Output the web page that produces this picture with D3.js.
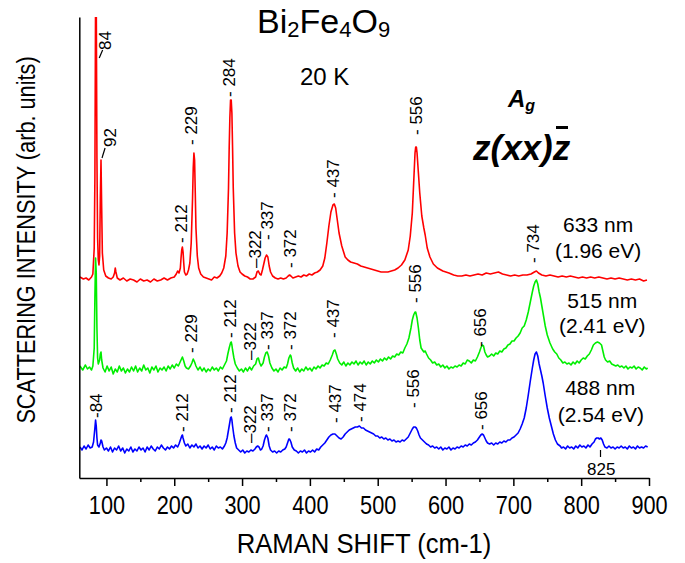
<!DOCTYPE html>
<meta charset="utf-8">
<style>
body { margin: 0; background: #fff; }
svg { display: block; }
.axis path, .axis line { stroke: #000; stroke-width: 1.5; }
.axis text { font-family: "Liberation Sans", Arial, sans-serif; font-size: 26.5px; fill: #000; }
.spec { fill: none; stroke-width: 1.6; stroke-linejoin: round; }
.peak { font-family: "Liberation Sans", Arial, sans-serif; font-size: 17px; fill: #000; }
.lab { font-family: "Liberation Sans", Arial, sans-serif; font-size: 21px; fill: #000; text-anchor: middle; }
.title { font-family: "Liberation Sans", Arial, sans-serif; fill: #000; }
</style>
<svg width="685" height="563"></svg>
<script src="https://d3js.org/d3.v7.min.js"></script>
<script>
// Raman spectra, three laser lines, offset vertically (arb. units)
var majorTicks = [100, 200, 300, 400, 500, 600, 700, 800, 900];
var minorTicks = [150, 250, 350, 450, 550, 650, 750, 850];

var red633 = [[61,201],[66,199],[70,200],[74,198],[78,201],[80,204],[82,230],[83,300],[84,480],[85,480],[86,320],[87,240],[88,218],[89,213],[90,222],[91,280],[92,318],[93,270],[94,225],[96,208],[99,202],[103,200],[107,199],[110,201],[112,205],[113,210],[114,206],[116,200],[120,198],[125,200],[130,197],[135,199],[140,198],[145,196],[150,199],[155,197],[160,198],[165,196],[170,199],[175,197],[180,198],[185,200],[190,198],[195,200],[200,201],[203,204],[205,207],[207,205],[209,210],[210,220],[211,228],[212,231],[213,226],[214,215],[215,206],[217,203],[219,204],[221,208],[223,215],[225,235],[227,280],[228,310],[229,325],[230,318],[231,285],[232,250],[234,222],[236,210],[239,204],[243,201],[247,200],[251,199],[255,198],[259,201],[263,200],[267,202],[270,205],[273,210],[276,222],[278,245],[280,290],[281,330],[282,360],[283,378],[284,378],[285,365],[286,330],[287,290],[289,245],[291,225],[294,212],[297,206],[300,204],[304,202],[308,201],[312,199],[316,199],[320,201],[322,206],[324,207],[326,204],[328,203],[330,208],[332,214],[334,220],[336,223],[338,221],[340,212],[342,206],[345,202],[349,200],[353,199],[357,200],[361,199],[365,200],[368,202],[370,203],[372,202],[375,200],[379,201],[383,202],[387,201],[391,203],[395,202],[399,204],[403,203],[407,205],[411,206],[415,208],[419,212],[422,220],[425,235],[428,252],[431,266],[434,273],[436,274],[438,270],[440,260],[443,245],[447,232],[452,221],[456,218],[460,216],[465,215],[470,214],[475,212],[480,211],[485,210],[490,209],[495,208],[500,207],[505,206],[510,206],[515,206],[520,207],[525,208],[530,210],[535,213],[540,218],[545,228],[548,242],[551,265],[553,295],[555,325],[556,331],[557,331],[558,325],[560,305],[562,285],[565,262],[568,250],[570,243],[573,230],[577,221],[582,214],[588,210],[596,207],[605,205],[612,203],[618,202],[624,202],[630,203],[636,202],[642,203],[648,204],[654,203],[660,205],[666,204],[672,205],[678,206],[684,204],[690,203],[696,202],[702,203],[708,202],[714,203],[720,203],[726,204],[731,206],[734,207],[737,205],[742,203],[748,202],[754,203],[760,202],[766,201],[772,202],[778,201],[784,202],[790,201],[796,200],[802,201],[808,200],[814,201],[820,200],[826,201],[832,200],[838,199],[844,200],[850,199],[856,200],[862,199],[868,198],[874,199],[880,198],[886,199],[892,197],[897,198]];

var green515 = [[61,112],[65,108],[69,113],[72,109],[75,111],[78,108],[80,112],[82,130],[83,180],[84,220],[85,205],[86,150],[87,120],[88,114],[90,118],[91,124],[92,126],[93,118],[95,110],[98,106],[101,112],[104,107],[107,111],[110,104],[113,109],[116,106],[119,112],[122,107],[125,110],[128,105],[131,109],[134,106],[137,111],[140,107],[143,112],[146,106],[149,110],[152,107],[155,113],[158,108],[161,110],[164,105],[167,111],[170,108],[173,112],[176,106],[179,110],[182,108],[185,111],[188,107],[191,112],[194,109],[197,113],[200,110],[203,114],[206,112],[208,115],[210,118],[212,121],[214,117],[216,112],[218,110],[221,109],[224,112],[226,115],[228,119],[230,116],[232,112],[235,108],[238,111],[241,107],[244,110],[247,106],[250,109],[253,107],[256,111],[259,108],[262,110],[265,107],[268,111],[271,109],[274,113],[277,117],[279,124],[281,130],[283,135],[284,136],[285,133],[286,128],[288,120],[290,114],[293,110],[296,107],[299,109],[302,106],[305,110],[308,107],[311,111],[314,108],[317,112],[320,114],[322,119],[324,120],[326,115],[328,112],[331,115],[333,121],[335,125],[337,126],[339,122],[341,115],[344,110],[347,107],[350,109],[353,106],[356,110],[359,108],[362,111],[365,110],[367,114],[369,120],[371,123],[372,122],[374,115],[376,110],[379,107],[382,110],[385,106],[388,109],[391,107],[394,111],[397,108],[400,110],[403,107],[406,111],[409,109],[412,112],[415,110],[418,113],[421,112],[424,115],[427,114],[430,118],[433,123],[435,127],[437,128],[439,124],[441,119],[444,115],[447,113],[450,116],[453,112],[456,115],[459,113],[462,116],[465,114],[468,117],[471,113],[474,116],[477,114],[480,117],[483,113],[486,116],[489,114],[492,117],[495,115],[498,118],[501,116],[504,119],[507,117],[510,120],[513,118],[516,121],[519,119],[522,122],[525,121],[528,124],[531,123],[534,126],[537,125],[540,130],[543,134],[546,140],[549,150],[551,158],[553,163],[555,166],[556,166],[558,160],[560,150],[562,138],[564,130],[566,128],[568,126],[570,127],[572,124],[575,120],[578,118],[581,115],[584,116],[587,113],[590,114],[593,111],[596,113],[599,110],[602,112],[605,109],[608,111],[611,110],[614,112],[617,111],[620,113],[623,112],[626,115],[629,114],[632,118],[635,117],[638,115],[641,118],[644,117],[647,121],[650,126],[652,130],[654,133],[656,132],[658,126],[660,123],[662,121],[665,122],[668,124],[671,122],[674,125],[677,124],[680,127],[683,126],[686,129],[689,130],[692,133],[695,134],[698,137],[701,137],[704,140],[707,142],[710,145],[713,150],[716,152],[719,158],[722,166],[725,176],[728,186],[730,192],[732,196],[734,198],[736,194],[738,186],[740,180],[742,172],[744,164],[747,152],[750,143],[754,135],[758,129],[761,126],[764,124],[767,120],[770,118],[773,115],[776,116],[779,114],[782,115],[785,113],[788,116],[791,114],[794,117],[797,115],[800,118],[803,120],[806,119],[809,122],[812,124],[815,128],[818,133],[821,135],[824,136],[827,135],[830,133],[832,127],[834,121],[836,118],[839,116],[842,117],[845,114],[848,113],[851,112],[854,113],[857,111],[860,112],[863,110],[866,112],[869,109],[872,111],[875,110],[878,112],[881,109],[884,111],[887,110],[890,108],[893,111],[896,109],[898,110]];

var blue488 = [[61,31],[64,28],[67,32],[70,29],[73,33],[76,30],[79,31],[81,36],[83,50],[84,58],[85,52],[86,40],[87,33],[89,31],[91,35],[92,38],[93,37],[95,31],[97,28],[100,30],[103,27],[106,31],[109,26],[112,30],[115,28],[118,32],[121,27],[124,30],[127,25],[130,29],[133,27],[136,31],[139,26],[142,29],[145,27],[148,31],[151,28],[154,30],[157,26],[160,31],[163,28],[166,32],[169,29],[172,27],[175,31],[178,29],[181,33],[184,30],[187,28],[190,31],[193,29],[196,32],[199,30],[202,33],[205,31],[207,34],[209,38],[211,42],[212,43],[213,40],[215,35],[217,32],[220,34],[223,30],[226,33],[229,31],[232,34],[235,30],[238,32],[241,29],[244,32],[247,30],[250,33],[253,29],[256,31],[259,28],[262,32],[265,30],[268,31],[271,29],[274,32],[276,35],[278,40],[280,48],[282,56],[283,60],[284,61],[285,58],[286,52],[288,42],[290,35],[292,30],[295,28],[298,26],[301,28],[304,25],[307,27],[310,26],[313,28],[316,27],[319,29],[321,31],[323,32],[325,31],[327,28],[329,29],[331,32],[333,38],[335,42],[336,43],[338,40],[340,32],[342,28],[345,26],[348,27],[351,25],[354,27],[357,26],[360,28],[363,29],[365,31],[367,35],[369,39],[370,39],[372,36],[374,31],[377,28],[380,27],[383,25],[386,27],[389,26],[392,28],[395,25],[398,27],[401,26],[404,28],[407,26],[410,29],[413,28],[416,31],[419,33],[422,35],[425,38],[428,41],[431,43],[434,44],[437,44],[440,42],[443,40],[446,39],[449,41],[452,44],[455,46],[458,48],[461,49],[464,50],[467,51],[470,51],[473,52],[476,50],[479,50],[482,48],[485,47],[488,46],[491,45],[494,44],[497,42],[500,42],[503,40],[506,41],[509,39],[512,40],[515,38],[518,39],[521,37],[524,38],[527,36],[530,37],[533,36],[536,38],[539,37],[542,39],[545,41],[548,45],[551,49],[553,51],[555,51],[557,50],[559,47],[561,43],[563,40],[566,38],[569,36],[572,34],[575,33],[578,31],[581,32],[584,30],[587,31],[590,29],[593,31],[596,28],[599,30],[602,29],[605,31],[608,28],[611,30],[614,29],[617,31],[620,30],[623,32],[626,31],[629,33],[632,32],[635,34],[638,33],[641,35],[644,36],[647,38],[650,41],[652,43],[654,44],[656,43],[658,40],[660,37],[662,35],[665,34],[668,35],[671,33],[674,35],[677,34],[680,36],[683,35],[686,37],[689,36],[692,38],[695,38],[698,40],[701,41],[704,43],[707,45],[710,49],[713,54],[716,60],[719,70],[722,83],[725,97],[728,110],[730,118],[732,124],[734,126],[736,122],[738,114],[740,108],[742,102],[744,95],[747,82],[750,70],[753,60],[756,52],[759,44],[762,38],[765,34],[769,32],[771,30],[774,31],[777,29],[780,32],[783,30],[786,31],[789,29],[792,32],[795,30],[798,33],[801,31],[804,32],[807,30],[810,33],[813,31],[816,34],[819,36],[821,39],[823,40],[825,40],[827,39],[829,40],[831,38],[833,34],[835,31],[838,30],[841,32],[844,30],[847,31],[850,29],[853,31],[856,30],[859,32],[862,30],[865,31],[868,29],[871,32],[874,30],[877,31],[880,29],[883,32],[886,30],[889,31],[892,30],[895,32],[898,31]];

// peak labels: text, shift where it sits, intensity at its lower end
var peakLabels = [
  ["84", 97.6, 428], ["92", 106, 331], ["- 229", 224.7, 333], ["- 284", 280.8, 381],
  ["- 212", 210, 235], ["\u2013322", 319, 210], ["- 337", 336.8, 238], ["- 372", 370.8, 210],
  ["- 437", 434, 280], ["- 556", 556.6, 343], ["- 734", 729, 215],
  ["- 229", 224.7, 125], ["- 212", 282.3, 140], ["\u2013322", 311.8, 118], ["- 337", 336.8, 128],
  ["- 372", 370.8, 128], ["- 437", 434, 140], ["- 556", 555, 175], ["- 656", 651, 131],
  ["-84", 84.6, 60], ["- 212", 211.5, 46], ["- 212", 282.3, 65], ["\u2013322", 311.8, 35],
  ["- 337", 336.8, 46], ["- 372", 370.8, 46], ["- 437", 437, 55], ["- 474", 474, 56],
  ["- 556", 552, 70], ["- 656", 652, 48]
];
var leaders = [[[89.4, 420], [94.4, 428]], [[93.5, 320], [98, 330]], [[828.5, 28], [828.5, 21]]];
var laserLabels = [
  ["633 nm", 825, 246], ["(1.96 eV)", 825, 220],
  ["515 nm", 831, 170], ["(2.41 eV)", 831, 145],
  ["488 nm", 828, 83], ["(2.54 eV)", 829, 56]
];

var svg = d3.select("svg");
var margin = {left: 79.3, top: 17};
var width = 569.7, height = 461;

var g = svg.append("g").attr("transform", "translate(" + margin.left + "," + margin.top + ")");

var x = d3.scaleLinear().domain([60, 900]).range([0, width]);
var y = d3.scaleLinear().domain([0, 461]).range([height, 0]);

g.append("clipPath").attr("id", "clip")
  .append("rect").attr("width", width).attr("height", height);

var line = d3.line().x(function(d) { return x(d[0]); }).y(function(d) { return y(d[1]); });

var series = [[red633, "#ff0000"], [green515, "#00ee00"], [blue488, "#0000ff"]];
g.selectAll(".spec").data(series).enter().append("path")
  .attr("class", "spec")
  .attr("clip-path", "url(#clip)")
  .attr("stroke", function(d) { return d[1]; })
  .attr("d", function(d) { return line(d[0]); });

// axes (the original uses a narrow face, so squeeze the labels)
g.append("g").attr("class", "axis")
  .attr("transform", "translate(0," + height + ")")
  .call(d3.axisBottom(x).tickValues(majorTicks).tickSize(8).tickSizeOuter(0).tickPadding(9))
  .selectAll("text").attr("transform", "scale(0.82,1)");
g.append("g").attr("class", "axis")
  .attr("transform", "translate(0," + height + ")")
  .call(d3.axisBottom(x).tickValues(minorTicks).tickSize(4).tickSizeOuter(0).tickFormat(""))
  .select(".domain").remove();
g.append("g").attr("class", "axis")
  .call(d3.axisLeft(y).tickValues([]).tickSizeOuter(0));

// peak labels
g.selectAll(".peak").data(peakLabels).enter().append("text")
  .attr("class", "peak")
  .attr("transform", function(d) { return "translate(" + x(d[1]) + "," + y(d[2]) + ") rotate(-90)"; })
  .attr("dy", "0.35em")
  .text(function(d) { return d[0]; });

g.append("text").attr("class", "peak")
  .attr("x", x(829.6)).attr("y", y(3))
  .attr("text-anchor", "middle")
  .text("825");

g.selectAll(".leader").data(leaders).enter().append("line")
  .attr("class", "leader")
  .attr("stroke", "#000").attr("stroke-width", 1.2)
  .attr("x1", function(d) { return x(d[0][0]); }).attr("y1", function(d) { return y(d[0][1]); })
  .attr("x2", function(d) { return x(d[1][0]); }).attr("y2", function(d) { return y(d[1][1]); });

g.selectAll(".lab").data(laserLabels).enter().append("text")
  .attr("class", "lab")
  .attr("x", function(d) { return x(d[1]); })
  .attr("y", function(d) { return y(d[2]); })
  .text(function(d) { return d[0]; });

// axis titles
svg.append("text").attr("class", "title")
  .attr("transform", "translate(35,240) rotate(-90) scale(0.82,1)")
  .attr("text-anchor", "middle").style("font-size", "26.5px")
  .text("SCATTERING INTENSITY (arb. units)");
svg.append("text").attr("class", "title")
  .attr("transform", "translate(364,553) scale(0.9,1)")
  .attr("text-anchor", "middle").style("font-size", "28.5px")
  .text("RAMAN SHIFT (cm-1)");

// compound name and conditions
var t = svg.append("text").attr("x", 257).attr("y", 33)
  .style("font-family", "'Liberation Sans', Arial, sans-serif").style("font-size", "34px");
[["Bi", 0], ["2", 1], ["Fe", 0], ["4", 1], ["O", 0], ["9", 1]].forEach(function(p) {
  t.append("tspan").text(p[0])
    .attr("font-size", p[1] ? "22px" : "34px")
    .attr("baseline-shift", p[1] ? "-4px" : "0");
});

svg.append("text").attr("x", 300).attr("y", 85)
  .style("font-family", "'Liberation Sans', Arial, sans-serif").style("font-size", "24px")
  .text("20 K");

var ag = svg.append("text").attr("x", 508).attr("y", 107)
  .style("font-family", "'Liberation Sans', Arial, sans-serif")
  .style("font-weight", "bold").style("font-style", "italic").style("font-size", "24px");
ag.append("tspan").text("A");
ag.append("tspan").text("g").attr("font-size", "16px").attr("dy", 4);

svg.append("text").attr("x", 473).attr("y", 160)
  .style("font-family", "'Liberation Sans', Arial, sans-serif")
  .style("font-weight", "bold").style("font-style", "italic").style("font-size", "35px")
  .text("z(xx)z");
svg.append("line").attr("x1", 556).attr("x2", 568).attr("y1", 127.5).attr("y2", 127.5)
  .attr("stroke", "#000").attr("stroke-width", 3);
</script>
